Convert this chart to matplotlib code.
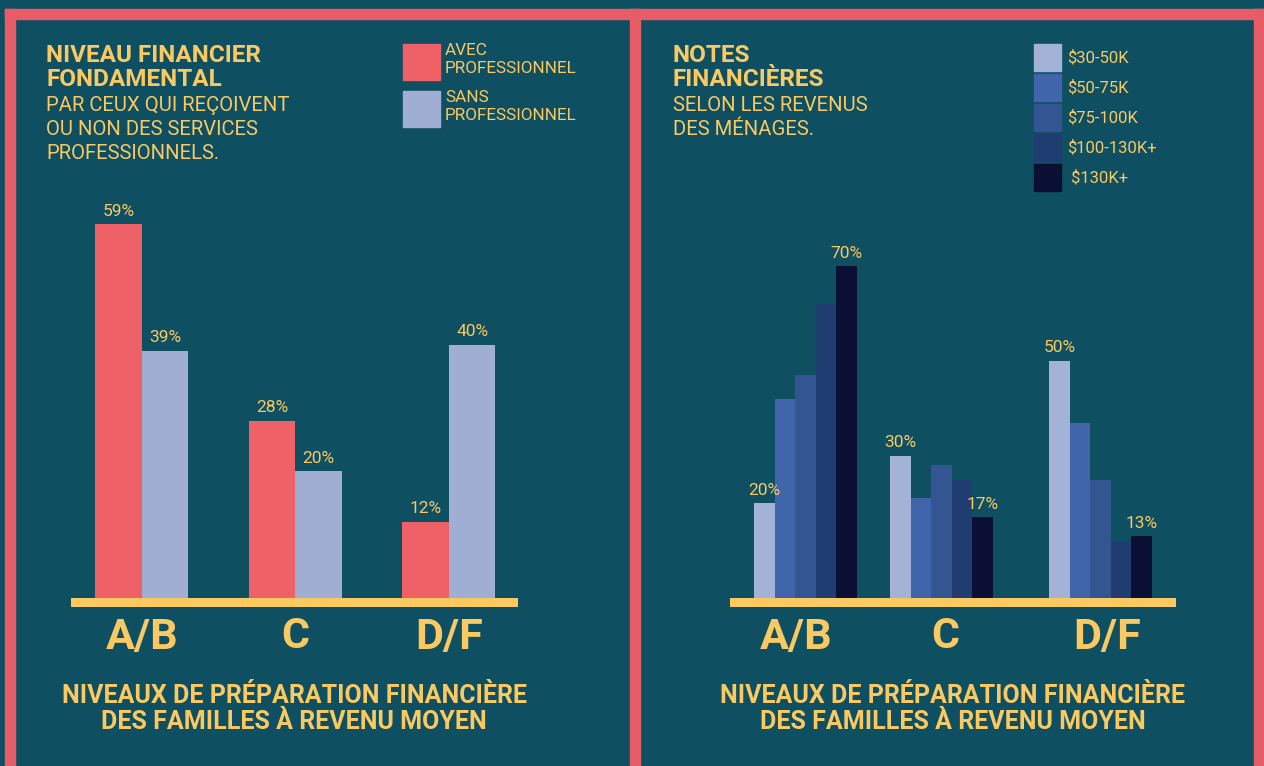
import numpy as np
import matplotlib
matplotlib.use("Agg")
import matplotlib.pyplot as plt
from matplotlib.patches import Rectangle
from matplotlib.transforms import blended_transform_factory

# data
grades = ["A/B", "C", "D/F"]
avec_pro = [59, 28, 12]
sans_pro = [39, 20, 40]
pro_labels = ["AVEC\nPROFESSIONNEL", "SANS\nPROFESSIONNEL"]

income_labels = ["$30-50K", "$50-75K", "$75-100K", "$100-130K+", " $130K+"]
income_values = [
    [20, 30, 50],   # $30-50K
    [42, 21, 37],   # $50-75K
    [47, 28, 25],   # $75-100K
    [62, 25, 12],   # $100-130K+
    [70, 17, 13],   # $130K+
]

# colours
BG = "#0E4F61"
FRAME = "#E85C67"
PINK = "#EE6167"
LIGHT = "#A0AED4"
YELLOW = "#FBC962"
income_colors = ["#A3B3D8", "#4065AB", "#335592", "#1F3D71", "#0A0F33"]

W, H = 1264, 766
plt.rcParams["font.family"] = ["Roboto", "DejaVu Sans"]


def fx(px):
    return px / W


def fy(py):
    return 1 - py / H


fig = plt.figure(figsize=(W / 100, H / 100), dpi=100, facecolor=BG)

# pink frame
for x0, y0, x1, y1 in [(5, 9, 1264, 19), (5, 9, 15, 766), (630, 9, 640, 766), (1254, 9, 1264, 766)]:
    fig.patches.append(Rectangle((fx(x0), fy(y1)), fx(x1 - x0), y1 / H - y0 / H,
                                 transform=fig.transFigure, color=FRAME, zorder=0))


def header(x, lines_bold, lines_reg):
    base = 62
    for t in lines_bold:
        fig.text(fx(x), fy(base), t, color=YELLOW, fontsize=17.5, fontweight="bold", va="baseline")
        base += 24
    base += 1
    for t in lines_reg:
        fig.text(fx(x), fy(base), t, color=YELLOW, fontsize=14.6, va="baseline")
        base += 24


def footer(cx):
    fig.text(fx(cx), fy(696), "NIVEAUX DE PRÉPARATION FINANCIÈRE", color=YELLOW,
             fontsize=18, fontweight="bold", ha="center", va="center")
    fig.text(fx(cx), fy(722), "DES FAMILLES À REVENU MOYEN", color=YELLOW,
             fontsize=18, fontweight="bold", ha="center", va="center")


# ---------- left chart ----------
ax1 = fig.add_axes([fx(71), fy(607), fx(518 - 71), (607 - 180) / H])
ax1.set_facecolor("none")
x = np.arange(len(grades))
bw = 0.303
b1 = ax1.bar(x - bw / 2, avec_pro, bw, color=PINK)
b2 = ax1.bar(x + bw / 2, sans_pro, bw, color=LIGHT)
for bars, vals in [(b1, avec_pro), (b2, sans_pro)]:
    for r, v in zip(bars, vals):
        ax1.text(r.get_x() + r.get_width() / 2, v + 0.9, f"{v}%", color=YELLOW,
                 fontsize=12.5, ha="center", va="bottom")
ax1.set_xlim(-0.46, 2.45)
ax1.set_ylim(-1.42, 66)
ax1.axhspan(-1.42, 0, color=YELLOW, lw=0)
tr1 = blended_transform_factory(ax1.transData, ax1.transAxes)
for xi, g in zip(x, grades):
    ax1.text(xi, -30 / 427, g, transform=tr1, color=YELLOW, fontsize=31,
             fontweight="bold", ha="center", va="center")
ax1.axis("off")

header(46, ["NIVEAU FINANCIER", "FONDAMENTAL"],
       ["PAR CEUX QUI REÇOIVENT", "OU NON DES SERVICES", "PROFESSIONNELS."])
footer(294)

# left legend
for i, (lab, col) in enumerate(zip(pro_labels, [PINK, LIGHT])):
    top = 44 + i * 47
    fig.patches.append(Rectangle((fx(403), fy(top + 36)), fx(37), 36 / H,
                                 transform=fig.transFigure, color=col))
    fig.text(fx(445), fy(top - 1), lab, color=YELLOW, fontsize=12.3, va="top",
             linespacing=1.25)

# ---------- right chart ----------
ax2 = fig.add_axes([fx(730), fy(607), fx(1176 - 730), (607 - 180) / H])
ax2.set_facecolor("none")
centers = np.array([75.5, 211.5, 370.5])
rbw = 20.6
n = len(income_labels)
for k in range(n):
    pos = centers + (k - (n - 1) / 2) * rbw
    bars = ax2.bar(pos, income_values[k], rbw, color=income_colors[k])
    if k in (0, n - 1):
        for r, v in zip(bars, income_values[k]):
            ax2.text(r.get_x() + r.get_width() / 2, v + 1.2, f"{v}%", color=YELLOW,
                     fontsize=12.5, ha="center", va="bottom")
ax2.set_xlim(0, 446)
ax2.set_ylim(-1.9, 88.2)
ax2.axhspan(-1.9, 0, color=YELLOW, lw=0)
tr2 = blended_transform_factory(ax2.transData, ax2.transAxes)
for cx, off, g in zip(centers, [-9, 4, 7], grades):
    ax2.text(cx + off, -30 / 427, g, transform=tr2, color=YELLOW, fontsize=31,
             fontweight="bold", ha="center", va="center")
ax2.axis("off")

header(673, ["NOTES", "FINANCIÈRES"], ["SELON LES REVENUS", "DES MÉNAGES."])
footer(953)

# right legend
for i, (lab, col) in enumerate(zip(income_labels, income_colors)):
    top = 44 + i * 30
    fig.patches.append(Rectangle((fx(1034), fy(top + 27)), fx(27), 27 / H,
                                 transform=fig.transFigure, color=col))
    fig.text(fx(1067), fy(top + 14), lab, color=YELLOW, fontsize=12, va="center")

fig.savefig("out.png", dpi=100, facecolor=BG)
